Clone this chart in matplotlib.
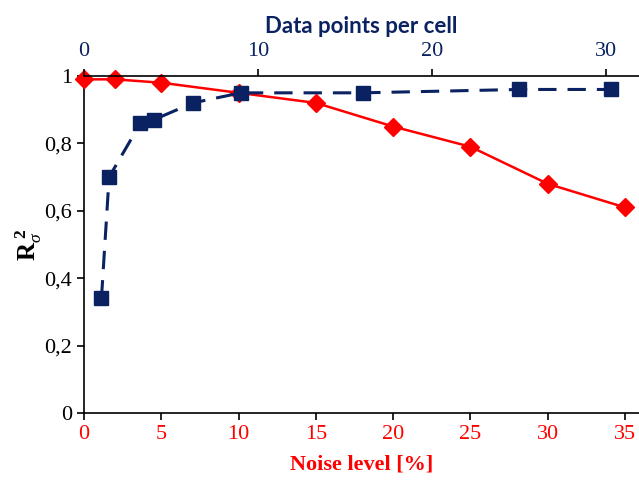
import matplotlib
matplotlib.use("Agg")
import matplotlib.pyplot as plt
import matplotlib as mpl

mpl.rcParams.update({
    "font.family": "Liberation Serif",
    "mathtext.fontset": "custom",
    "mathtext.rm": "Liberation Serif",
    "mathtext.bf": "Liberation Serif:bold",
    "mathtext.it": "Liberation Serif:italic",
})

RED = "#ff0000"
NAVY = "#0b2262"

# noise level [%] vs R^2 (red, bottom axis)
noise = [0, 2, 5, 10, 15, 20, 25, 30, 35]
r2_noise = [0.99, 0.99, 0.98, 0.95, 0.92, 0.85, 0.79, 0.68, 0.61]

# data points per cell vs R^2 (navy, top axis)
points = [1, 1.44, 3.24, 4, 6.25, 9, 16, 25, 30.25]
r2_points = [0.34, 0.70, 0.86, 0.87, 0.92, 0.95, 0.95, 0.96, 0.96]

x_ticks = [0, 5, 10, 15, 20, 25, 30, 35]
top_ticks = [0, 10, 20, 30]
y_ticks = [0, 0.2, 0.4, 0.6, 0.8, 1]
y_labels = ["0", "0,2", "0,4", "0,6", "0,8", "1"]

fig = plt.figure(figsize=(6.39, 4.88), dpi=100)
ax = fig.add_axes([0.1315, 0.1537, 0.8685, 0.6906])

ax.plot(noise, r2_noise, color=RED, lw=1.8, marker="D", ms=9,
        mec=RED, mfc=RED, zorder=3, clip_on=False)
ax.set_xlim(0, 35.9)
ax.set_ylim(0, 1)
ax.set_xticks(x_ticks)
ax.set_yticks(y_ticks)
ax.set_yticklabels(y_labels)
ax.tick_params(axis="x", colors=RED, labelsize=16, length=5, width=1.2,
               direction="out", pad=4)
ax.tick_params(axis="x", color="black")
ax.tick_params(axis="y", labelsize=16, length=5, width=1.2, direction="out")
for side in ("top", "right"):
    ax.spines[side].set_visible(False)
ax.spines["left"].set_linewidth(1.2)
ax.spines["bottom"].set_linewidth(1.2)
ax.set_xlabel("Noise level [%]", color=RED, fontsize=16, fontweight="bold",
              labelpad=7)
ax.set_ylabel(r"$\mathbf{R}_{\sigma}^{\ \mathbf{2}}$", fontsize=18, labelpad=0)

ax2 = ax.twiny()
ax2.plot(points, r2_points, color=NAVY, lw=2.2, ls=(0, (6, 3.6)),
         marker="s", ms=10, mec=NAVY, mfc=NAVY, zorder=3)
ax2.set_xlim(0, 31.87)
ax2.set_xticks(top_ticks)
ax2.tick_params(axis="x", colors=NAVY, labelsize=16, length=5, width=1.2,
                direction="out", pad=6)
ax2.tick_params(axis="x", color="black")
for side in ("bottom", "right", "left"):
    ax2.spines[side].set_visible(False)
ax2.spines["top"].set_linewidth(1.2)
ax2.set_xlabel("Data points per cell", color=NAVY, fontsize=16,
               fontweight="bold", family="Lato", labelpad=6)

fig.savefig("out.png", dpi=100)
